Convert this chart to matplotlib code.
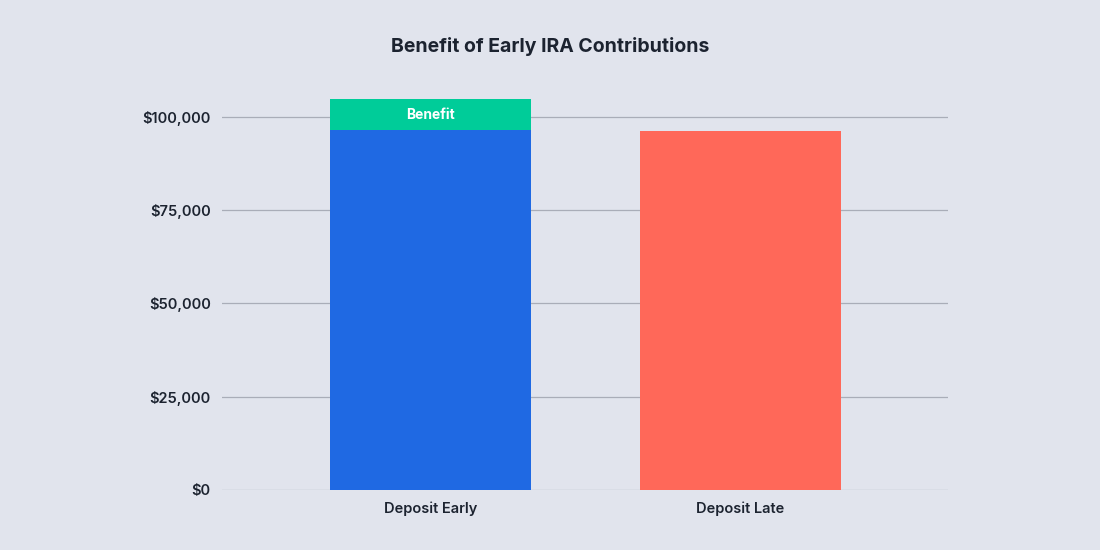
import matplotlib
matplotlib.use("Agg")
import matplotlib.pyplot as plt
from matplotlib.ticker import FuncFormatter

plt.rcParams["font.family"] = "Inter"

categories = ["Deposit Early", "Deposit Late"]
base_values = [96500, 96250]
benefit_values = [8300, 0]
yticks = [0, 25000, 50000, 75000, 100000]

bg = "#e1e4ed"
ink = "#1c2330"
colors = ["#1f69e3", "#ff6859"]
benefit_color = "#00cc99"

fig = plt.figure(figsize=(11, 5.5), dpi=100, facecolor=bg)
ax = fig.add_axes([0.2018, 0.1091, 0.66, 0.7455], facecolor=bg)

x = range(len(categories))
ax.bar(x, base_values, width=0.648, color=colors, zorder=3)
ax.bar(x, benefit_values, bottom=base_values, width=0.648, color=benefit_color, zorder=3)
ax.text(0, base_values[0] + benefit_values[0] / 2, "Benefit", ha="center", va="center",
        color="white", fontsize=10, fontweight="bold", zorder=4)

ax.set_xlim(-0.6726, 1.669)
ax.set_ylim(0, 109920)
ax.set_yticks(yticks)
ax.yaxis.set_major_formatter(FuncFormatter(lambda v, p: f"${v:,.0f}"))
ax.set_xticks(list(x))
ax.set_xticklabels(categories)
ax.grid(axis="y", color="#a9adb8", linewidth=0.9, zorder=0)
for s in ax.spines.values():
    s.set_visible(False)
ax.tick_params(length=0, colors=ink, labelsize=10.5, pad=8)
for lbl in ax.get_xticklabels() + ax.get_yticklabels():
    lbl.set_fontweight("semibold")

fig.text(0.5, 0.915, "Benefit of Early IRA Contributions", ha="center", va="center",
         fontsize=14, fontweight="bold", color=ink)

fig.savefig("out.png", dpi=100, facecolor=bg)
